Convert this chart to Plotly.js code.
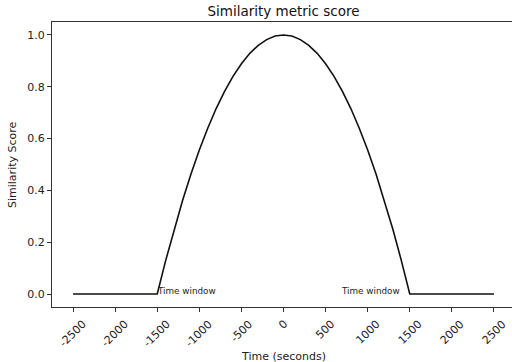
<!DOCTYPE html>
<html>
<head>
<meta charset="utf-8">
<script src="https://cdn.plot.ly/plotly-3.0.1.min.js"></script>
<style>
html,body{margin:0;padding:0;width:512px;height:362px;overflow:hidden;background:#fff;}
#chart{width:515px;height:362px;}
</style>
</head>
<body>
<div id="chart"></div>
<script>
// Time (seconds) and similarity score
const timeSeconds = [-2500, -1500, -1400, -1300, -1200, -1100, -1000, -900, -800, -700, -600, -500, -400, -300, -200, -100, 0,
  100, 200, 300, 400, 500, 600, 700, 800, 900, 1000, 1100, 1200, 1300, 1400, 1500, 2500];
const similarity = [0, 0, 0.129, 0.249, 0.36, 0.462, 0.556, 0.64, 0.716, 0.782, 0.84, 0.889, 0.929, 0.96, 0.982, 0.996, 1.0,
  0.996, 0.982, 0.96, 0.929, 0.889, 0.84, 0.782, 0.716, 0.64, 0.556, 0.462, 0.36, 0.249, 0.129, 0, 0];
const xTickValues = [-2500, -2000, -1500, -1000, -500, 0, 500, 1000, 1500, 2000, 2500];
const xTickLabels = ['-2500', '-2000', '-1500', '-1000', '-500', '0', '500', '1000', '1500', '2000', '2500'];
const yTickValues = [0, 0.2, 0.4, 0.6, 0.8, 1.0];
const yTickLabels = ['0.0', '0.2', '0.4', '0.6', '0.8', '1.0'];
const windowLabels = ['Time window', 'Time window'];
const windowEdges = [-1500, 1500];

const FONT = 'DejaVu Sans, sans-serif';
const annotations = [];
xTickValues.forEach((v, i) => {
  annotations.push({
    x: v, xref: 'x', y: 0, yref: 'paper', yshift: -8,
    text: xTickLabels[i], showarrow: false, textangle: -45,
    xanchor: 'center', yanchor: 'top',
    font: {family: FONT, size: 11, color: '#222'}
  });
});
annotations.push({
  x: windowEdges[0], xref: 'x', xshift: -2, y: 0, yref: 'y', yshift: -4,
  text: windowLabels[0], showarrow: false, xanchor: 'left', yanchor: 'bottom',
  font: {family: FONT, size: 8.8, color: '#222'}
});
annotations.push({
  x: windowEdges[1], xref: 'x', xshift: -8, y: 0, yref: 'y', yshift: -4,
  text: windowLabels[1], showarrow: false, xanchor: 'right', yanchor: 'bottom',
  font: {family: FONT, size: 8.8, color: '#222'}
});
annotations.push({
  x: 0.5, xref: 'paper', y: 0, yref: 'paper', yshift: -41,
  text: 'Time (seconds)', showarrow: false, xanchor: 'center', yanchor: 'top',
  font: {family: FONT, size: 11, color: '#222'}
});
annotations.push({
  x: 0, xref: 'paper', xshift: -31, y: 0.5, yref: 'paper',
  text: 'Similarity Score', showarrow: false, textangle: -90,
  xanchor: 'right', yanchor: 'middle',
  font: {family: FONT, size: 11, color: '#222'}
});

const trace = {
  x: timeSeconds, y: similarity, type: 'scatter', mode: 'lines',
  line: {color: '#111', width: 1.6}, hoverinfo: 'skip'
};

const layout = {
  width: 515, height: 362,
  margin: {l: 52, r: 0, t: 22, b: 55},
  paper_bgcolor: '#fff', plot_bgcolor: '#fff',
  showlegend: false,
  title: {text: 'Similarity metric score', x: 0.5, xref: 'paper', y: 1 - 11/362, yref: 'container', yanchor: 'middle',
    font: {family: FONT, size: 13.5, color: '#111'}},
  xaxis: {range: [-2750, 2750], showgrid: false, zeroline: false,
    tickmode: 'array', tickvals: xTickValues, showticklabels: false,
    ticks: 'outside', ticklen: 4, tickcolor: '#333', tickwidth: 1,
    showline: true, linecolor: '#333', linewidth: 1, mirror: true},
  yaxis: {range: [-0.05, 1.05], showgrid: false, zeroline: false,
    tickmode: 'array', tickvals: yTickValues, ticktext: yTickLabels,
    ticks: 'outside', ticklen: 4, tickcolor: '#333', tickwidth: 1,
    tickfont: {family: FONT, size: 11, color: '#222'},
    showline: true, linecolor: '#333', linewidth: 1, mirror: true},
  annotations: annotations
};

Plotly.newPlot('chart', [trace], layout, {staticPlot: true, displayModeBar: false});
</script>
</body>
</html>
